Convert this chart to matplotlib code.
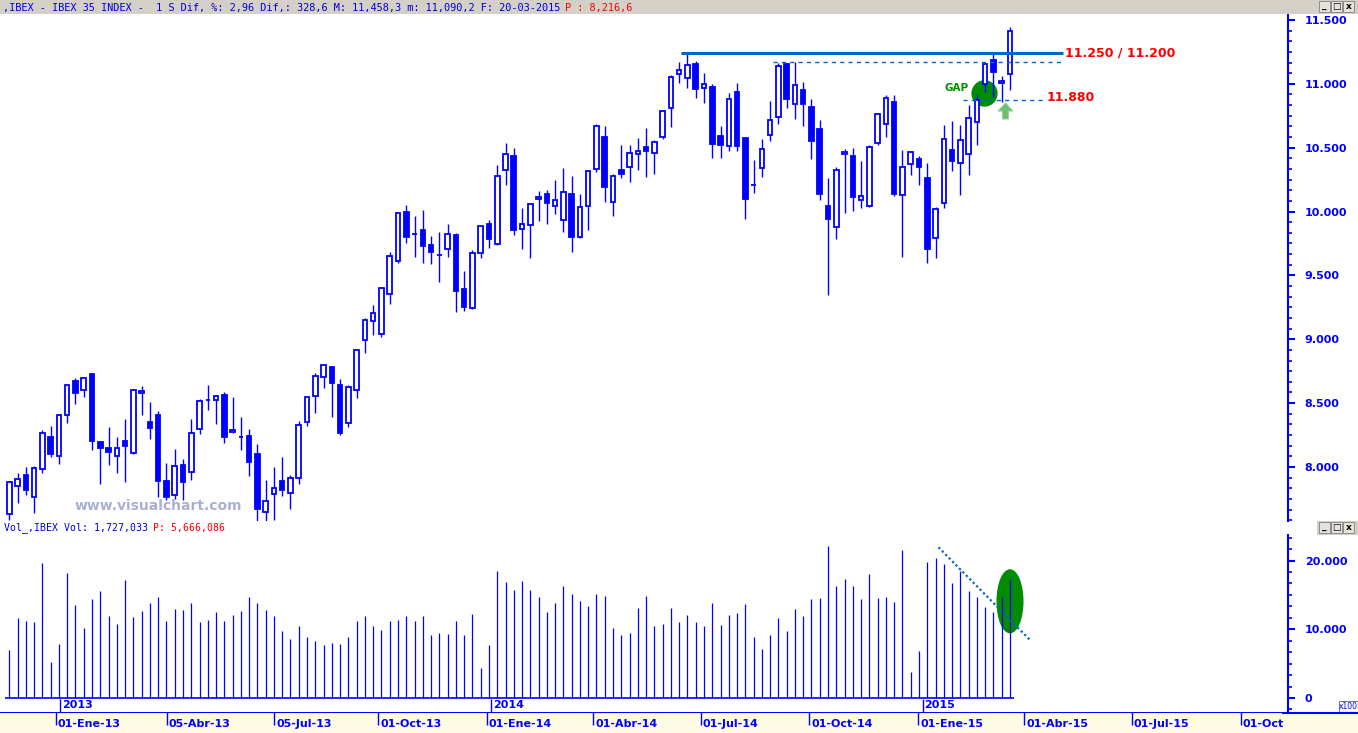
import datetime as dt
import matplotlib
matplotlib.use("Agg")
import matplotlib.pyplot as plt
from matplotlib.patches import Rectangle, Ellipse, Polygon
from matplotlib.ticker import FixedLocator, AutoMinorLocator, FuncFormatter

# ---------------- data (weekly IBEX 35, week index 0 = week of 19-Nov-2012) ----------------
start_week = dt.date(2012, 11, 19)

opens = [7629, 7848, 7935, 7762, 7982, 8232, 8083, 8404, 8671, 8600,
         8725, 8193, 8149, 8083, 8201, 8107, 8577, 8350, 8404, 7888,
         7778, 8013, 7958, 8295, 8522, 8522, 8561, 8271, 8233, 8243,
         8102, 7645, 7786, 7888, 7794, 7915, 8349, 8553, 8702, 8780,
         8639, 8341, 8600, 8991, 9140, 9038, 9357, 9610, 9994, 9821,
         9853, 9735, 9657, 9704, 9814, 9391, 9242, 9673, 9900, 9743,
         10322, 10435, 9861, 9892, 10095, 10135, 10041, 9931, 10135, 9798,
         10041, 10330, 10581, 10077, 10322, 10346, 10448, 10503, 10456, 10581,
         10808, 11074, 11043, 11152, 10965, 10972, 10589, 10510, 10933, 10573,
         10205, 10339, 10597, 10738, 11155, 10840, 10949, 10816, 10644, 10041,
         9877, 10448, 10433, 10088, 10041, 10534, 10683, 10855, 10127, 10370,
         10409, 10260, 9790, 10064, 10479, 10378, 10448, 10699, 10996, 11184,
         11004, 11075]
highs = [7885, 7950, 7997, 8008, 8289, 8321, 8412, 8645, 8697, 8704,
         8730, 8198, 8313, 8235, 8376, 8605, 8634, 8509, 8436, 8034,
         8141, 8062, 8376, 8532, 8642, 8561, 8587, 8548, 8391, 8297,
         8180, 7898, 8000, 8076, 7935, 8360, 8550, 8733, 8800, 8785,
         8686, 8639, 8921, 9164, 9268, 9405, 9680, 9990, 10051, 9965,
         10012, 9806, 9837, 9902, 9829, 9532, 9699, 9890, 9934, 10362,
         10537, 10500, 10025, 10064, 10161, 10169, 10247, 10341, 10278, 10137,
         10320, 10683, 10667, 10291, 10518, 10518, 10573, 10651, 10557, 10790,
         11066, 11168, 11231, 11176, 11082, 10996, 10667, 10925, 11004, 10578,
         10403, 10568, 10866, 11161, 11161, 11174, 11012, 10879, 10714, 10260,
         10346, 10487, 10495, 10393, 10519, 10769, 10910, 10910, 10479, 10464,
         10433, 10378, 10033, 10675, 10707, 10675, 10832, 10910, 11161, 11239,
         11059, 11445]
lows = [7585, 7721, 7781, 7642, 7950, 8081, 8021, 8347, 8496, 8551,
        8136, 7869, 8015, 7955, 7885, 8100, 8410, 8219, 7767, 7741,
        7747, 7741, 7898, 8258, 8446, 8336, 8188, 8268, 8136, 7932,
        7577, 7577, 7583, 7775, 7673, 7870, 8323, 8425, 8616, 8394,
        8250, 8310, 8542, 8890, 9036, 9020, 9278, 9600, 9756, 9646,
        9600, 9592, 9451, 9641, 9216, 9224, 9240, 9633, 9712, 9740,
        10210, 9816, 9704, 9639, 9926, 9905, 9981, 9842, 9686, 9795,
        9855, 10309, 10077, 9968, 10265, 10234, 10325, 10273, 10296, 10565,
        10659, 11004, 10965, 10886, 10847, 10416, 10416, 10471, 10471, 9939,
        10142, 10273, 10555, 10688, 10814, 10727, 10673, 10409, 10093, 9347,
        9788, 9986, 10007, 10031, 10033, 10519, 10586, 10119, 9647, 10284,
        10205, 9595, 9634, 10025, 10315, 10127, 10284, 10519, 10934, 10900,
        10860, 10953]
closes = [7880, 7903, 7822, 7989, 8263, 8104, 8404, 8639, 8582, 8694,
          8206, 8151, 8120, 8146, 8162, 8600, 8592, 8308, 7893, 7767,
          8005, 7885, 8263, 8514, 8526, 8553, 8237, 8287, 8237, 8042,
          7673, 7731, 7833, 7817, 7911, 8326, 8545, 8710, 8796, 8660,
          8268, 8623, 8913, 9148, 9203, 9399, 9649, 9986, 9803, 9823,
          9733, 9680, 9659, 9821, 9380, 9255, 9673, 9884, 9782, 10276,
          10448, 9855, 9900, 10056, 10111, 10064, 10093, 10150, 9798, 10033,
          10315, 10667, 10195, 10276, 10296, 10456, 10471, 10471, 10542, 10784,
          11051, 11105, 11145, 10957, 10996, 10531, 10518, 10878, 10510, 10095,
          10208, 10487, 10714, 11137, 10884, 10988, 10845, 10555, 10140, 9944,
          10323, 10464, 10117, 10125, 10503, 10761, 10887, 10135, 10346, 10464,
          10346, 9704, 10018, 10566, 10393, 10558, 10730, 10871, 11153, 11090,
          11020, 11412]
volumes = [6985, 11641, 11204, 11059, 19692, 5239, 7858, 18188, 13532, 10186,
           14405, 15569, 11932, 10768, 17170, 11787, 12659, 13823, 14696, 11204,
           12950, 12805, 13823, 11059, 11350, 12514, 11204, 12078, 12659, 14696,
           13823, 12805, 11932, 9749, 8585, 10477, 8876, 8294, 7712, 8003,
           7858, 8876, 11204, 11932, 10477, 9895, 11204, 11350, 11932, 11204,
           11932, 9167, 9459, 9313, 11204, 9167, 12223, 4366, 7712, 18479,
           16879, 15715, 17025, 15715, 14696, 12514, 13823, 16297, 15133, 14115,
           13387, 15133, 14842, 10186, 9167, 9459, 13096, 14842, 10477, 10768,
           13096, 11059, 12078, 11059, 10477, 13823, 10623, 12078, 12369, 13678,
           8876, 7130, 9167, 11641, 9749, 12950, 11932, 14405, 14551, 22117,
           16297, 17316, 16297, 14405, 18043, 14551, 14696, 13969, 21535, 3784,
           6840, 19789, 20371, 19498, 16734, 18479, 15569, 14696, 13241, 12514,
           14696, 17270]

price_ticks = [8000, 8500, 9000, 9500, 10000, 10500, 11000, 11500]
vol_ticks = [0, 10000, 20000]
date_labels = ["01-Ene-13", "05-Abr-13", "05-Jul-13", "01-Oct-13", "01-Ene-14",
               "01-Abr-14", "01-Jul-14", "01-Oct-14", "01-Ene-15", "01-Abr-15",
               "01-Jul-15", "01-Oct-15"]
date_values = [dt.date(2013, 1, 1), dt.date(2013, 4, 5), dt.date(2013, 7, 5),
               dt.date(2013, 10, 1), dt.date(2014, 1, 1), dt.date(2014, 4, 1),
               dt.date(2014, 7, 1), dt.date(2014, 10, 1), dt.date(2015, 1, 1),
               dt.date(2015, 4, 1), dt.date(2015, 7, 1), dt.date(2015, 10, 1)]
year_labels = ["2013", "2014", "2015"]
year_values = [dt.date(2013, 1, 1), dt.date(2014, 1, 1), dt.date(2015, 1, 1)]

resistance = 11245
resistance2 = 11175
gap_level = 10870

header_blue = ",IBEX - IBEX 35 INDEX -  1 S Dif, %: 2,96 Dif,: 328,6 M: 11,458,3 m: 11,090,2 F: 20-03-2015"
header_red = "P : 8,216,6"
vol_blue = "Vol_,IBEX Vol: 1,727,033"
vol_red = "P: 5,666,086"

# ---------------- layout helpers ----------------
W, H = 1358, 733
fig = plt.figure(figsize=(W / 100, H / 100), dpi=100)
fig.patch.set_facecolor("white")

BLUE = "#0000ff"
LINE_BLUE = "#0066cc"
RED = "#ff0000"
GREEN = "#008c00"
GRAY = "#d4d0c8"
CREAM = "#fdfbe6"
MONO = "DejaVu Sans Mono"

PX0, PXW = 9.3, 8.27   # pixel of first candle, pixels per week


def wk(d):
    return (d - start_week).days / 7.0


def px_axes(x0, y0, x1, y1, z=1):
    return fig.add_axes([x0 / W, 1 - y1 / H, (x1 - x0) / W, (y1 - y0) / H], zorder=z)


def xlim_for(px_left, px_right):
    return ((px_left - PX0) / PXW, (px_right - PX0) / PXW)


def thousands(v, p=None):
    return f"{int(round(v)):,}".replace(",", ".")


n = len(opens)
idx = list(range(n))

# ---------------- price panel ----------------
ax = px_axes(0, 14, 1288, 521)
ax.set_facecolor("white")
ax.set_xlim(*xlim_for(0, 1288))
ax.set_ylim(11500 - (521 - 20) * 7.83, 11500 + 6 * 7.83)

ax.vlines(idx, lows, highs, color=BLUE, lw=1.0, zorder=3)
bw = 0.55
for i in idx:
    o, c = opens[i], closes[i]
    lo, hi = min(o, c), max(o, c)
    up = c >= o
    ax.add_patch(Rectangle((i - bw / 2, lo), bw, max(hi - lo, 1), facecolor="white" if up else BLUE,
                           edgecolor=BLUE, lw=1.3, zorder=4))

for s in ["left", "top", "bottom"]:
    ax.spines[s].set_visible(False)
ax.spines["right"].set_color(BLUE)
ax.spines["right"].set_linewidth(1.5)
ax.set_xticks([])
ax.yaxis.tick_right()
ax.yaxis.set_major_locator(FixedLocator(price_ticks))
ax.yaxis.set_minor_locator(AutoMinorLocator(6))
ax.yaxis.set_major_formatter(FuncFormatter(thousands))
ax.tick_params(axis="y", which="major", colors=BLUE, length=5, width=1.5, pad=7)
ax.tick_params(axis="y", which="minor", colors=BLUE, length=3, width=1.2)
for t in ax.get_yticklabels():
    t.set_fontweight("bold")
    t.set_fontsize(8)
    t.set_color(BLUE)

# annotations
ax.hlines(resistance, *xlim_for(681, 1063), color=LINE_BLUE, lw=2.2, zorder=5)
ax.hlines(resistance2, *xlim_for(773, 1063), color=LINE_BLUE, lw=1.0, linestyles=(0, (3, 3)), zorder=5)
ax.hlines(gap_level, *xlim_for(963, 1045), color=LINE_BLUE, lw=1.0, linestyles=(0, (3, 3)), zorder=5)
ax.text((1065 - PX0) / PXW, resistance, "11.250 / 11.200", color=RED, fontsize=9, fontweight="bold",
        va="center", ha="left", zorder=6)
ax.text((1047 - PX0) / PXW, 10895, "11.880", color=RED, fontsize=9, fontweight="bold",
        va="center", ha="left", zorder=6)
ax.text((969 - PX0) / PXW, 10968, "GAP", color="#009000", fontsize=7.5, fontweight="bold",
        va="center", ha="right", zorder=6)
ax.add_patch(Ellipse(((984.5 - PX0) / PXW, 10925), 3.0, 196, color=GREEN, zorder=2.5))
ax_x = (1005.5 - PX0) / PXW
ax.add_patch(Polygon([(ax_x, 10850), (ax_x - 0.9, 10787), (ax_x - 0.36, 10787), (ax_x - 0.36, 10725),
                      (ax_x + 0.36, 10725), (ax_x + 0.36, 10787), (ax_x + 0.9, 10787)],
                     closed=True, facecolor="#5cb85c", edgecolor="#8fd18f", lw=0.8, alpha=0.9, zorder=6))

ax.text((75 - PX0) / PXW, 11500 - (506 - 20) * 7.83, "www.visualchart.com", color="#a9b0d4",
        fontsize=10, fontweight="bold", va="center", ha="left", zorder=1)

# ---------------- volume panel ----------------
av = px_axes(0, 535, 1288, 712)
av.set_facecolor("white")
av.set_xlim(*xlim_for(0, 1288))
av.set_ylim(-2037, 23717)
av.add_patch(Ellipse(((1010 - PX0) / PXW, 14070), 3.1, 9120, color=GREEN, zorder=1))
av.vlines(idx, 0, volumes, color=BLUE, lw=0.9, zorder=3)
av.hlines(0, -0.5, n - 0.5, color=BLUE, lw=1.2, zorder=3)
av.plot([(938.5 - PX0) / PXW, (1030 - PX0) / PXW], [21927, 8439], color=LINE_BLUE, lw=1.6,
        linestyle=(0, (1, 1.2)), zorder=4)
for s in ["left", "top", "bottom"]:
    av.spines[s].set_visible(False)
av.spines["right"].set_color(BLUE)
av.spines["right"].set_linewidth(1.5)
av.set_xticks([])
av.yaxis.tick_right()
av.yaxis.set_major_locator(FixedLocator(vol_ticks))
av.yaxis.set_minor_locator(AutoMinorLocator(6))
av.yaxis.set_major_formatter(FuncFormatter(thousands))
av.tick_params(axis="y", which="major", colors=BLUE, length=5, width=1.5, pad=7)
av.tick_params(axis="y", which="minor", colors=BLUE, length=3, width=1.2)
for t in av.get_yticklabels():
    t.set_fontweight("bold")
    t.set_fontsize(8)
    t.set_color(BLUE)

for lab, d in zip(year_labels, year_values):
    x = wk(d)
    av.vlines(x, -2037, -150, color=BLUE, lw=1.0)
    av.text(x + 0.25, -1000, lab, color=BLUE, fontsize=8, fontweight="bold", va="center", ha="left")

# ---------------- date strip ----------------
fig.patches.append(Rectangle((0, 0), 1, 21 / H, transform=fig.transFigure, facecolor=CREAM,
                             edgecolor="none", zorder=0))
ad = px_axes(0, 712, 1283, 733)
ad.set_facecolor(CREAM)
ad.set_xlim(*xlim_for(0, 1283))
ad.set_ylim(0, 1)
ad.axis("off")
ad.axhline(1, color=BLUE, lw=1.5)
for lab, d in zip(date_labels, date_values):
    x = wk(d) - 0.55
    ad.vlines(x, 0.4, 1, color=BLUE, lw=1.0)
    ad.text(x + 0.25, 0.45, lab, color=BLUE, fontsize=8, fontweight="bold", va="center", ha="left",
            clip_on=True)
fig.add_artist(plt.Line2D([1283 / W, 1], [1 - 712.5 / H, 1 - 712.5 / H], color=BLUE, lw=1.5))

# x100 box
fig.patches.append(Rectangle((1339 / W, 1 - 712 / H), 19 / W, 11 / H, transform=fig.transFigure,
                             facecolor="white", edgecolor="#808080", lw=0.8))
fig.text(1348.5 / W, 1 - 706.5 / H, "x100", fontsize=5.5, color=BLUE, ha="center", va="center")

# ---------------- header bars ----------------
fig.patches.append(Rectangle((0, 1 - 14 / H), 1, 14 / H, transform=fig.transFigure, facecolor=GRAY,
                             edgecolor="none", zorder=5))
fig.patches.append(Rectangle((1317 / W, 1 - 535 / H), 41 / W, 14 / H, transform=fig.transFigure,
                             facecolor=GRAY, edgecolor="none", zorder=5))


def buttons(ytop):
    for k, g in enumerate(["_", "\u25a1", "x"]):
        x0 = 1319 + 12 * k
        fig.patches.append(Rectangle((x0 / W, 1 - (ytop + 11) / H), 11 / W, 11 / H,
                                     transform=fig.transFigure, facecolor="#e4e2dc",
                                     edgecolor="#808080", lw=0.6, zorder=6))
        fig.text((x0 + 5.5) / W, 1 - (ytop + 5.5) / H, g, fontsize=6.5, color="black",
                 fontweight="bold", ha="center", va="center", zorder=7)


buttons(1)
buttons(522)

t1 = fig.text(3 / W, 1 - 7.5 / H, header_blue, fontsize=7.4, family=MONO, color="#0000d8",
              ha="left", va="center", zorder=8)
t2 = fig.text(4 / W, 1 - 528 / H, vol_blue, fontsize=7.1, family=MONO, color="#0000d8",
              ha="left", va="center", zorder=8)
fig.canvas.draw()
r = fig.canvas.get_renderer()
for t, red, fs in [(t1, header_red, 7.4), (t2, vol_red, 7.1)]:
    bb = t.get_window_extent(r)
    fig.text((bb.x1 + 5) / W, t.get_position()[1], red, fontsize=fs, family=MONO, color=RED,
             ha="left", va="center", zorder=8)

fig.savefig("out.png", dpi=100, facecolor=fig.get_facecolor())
